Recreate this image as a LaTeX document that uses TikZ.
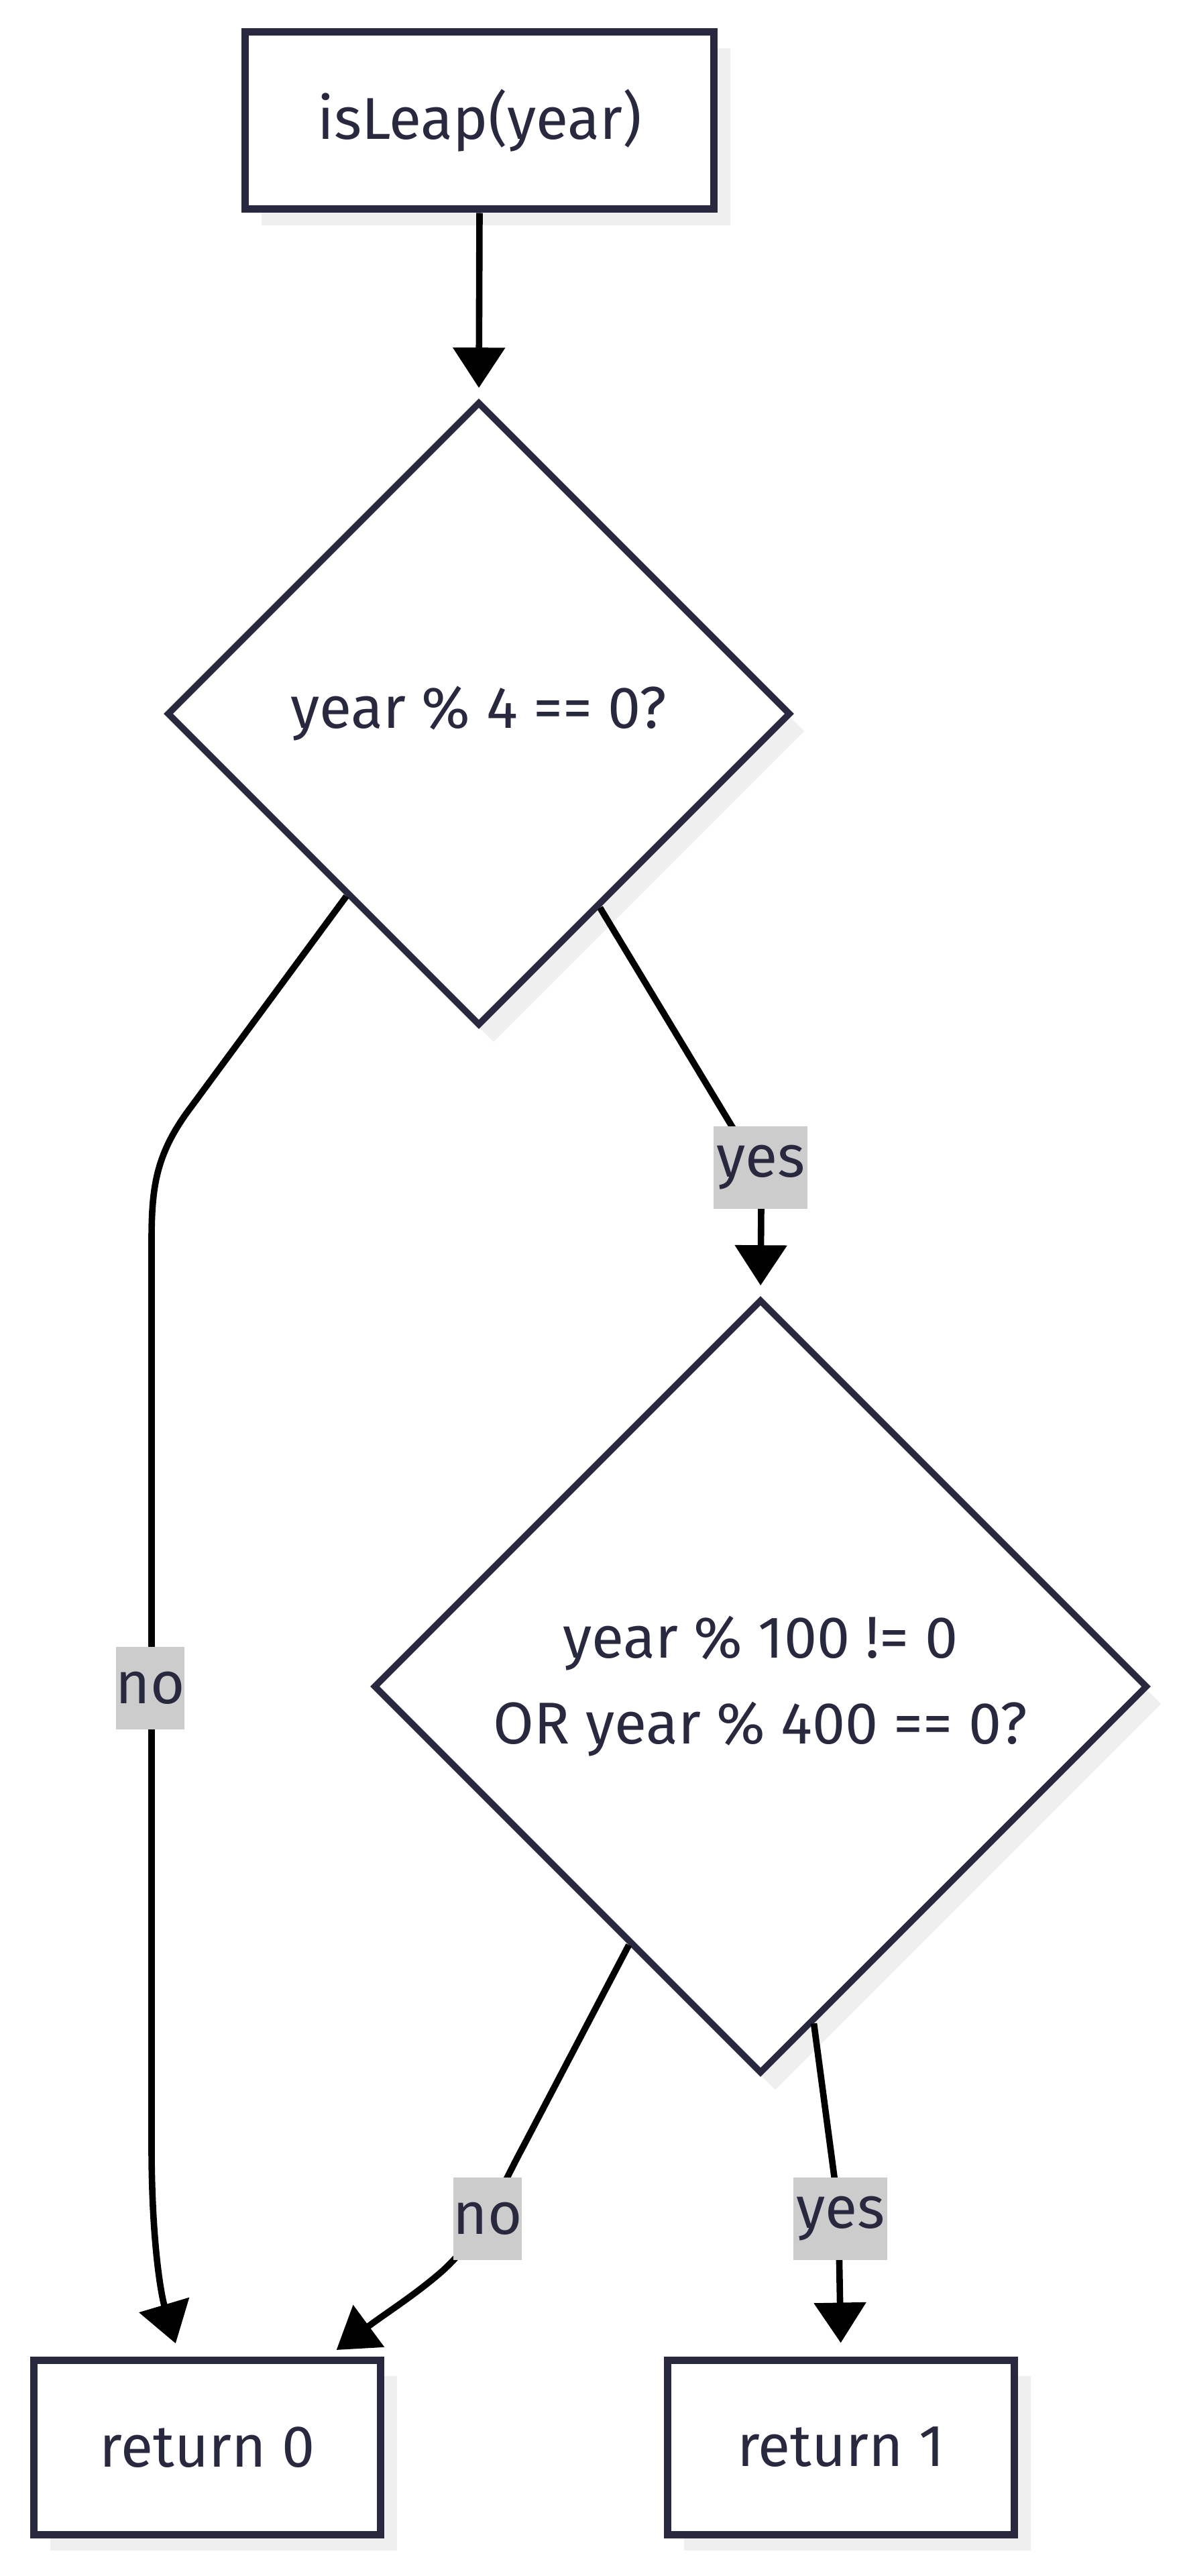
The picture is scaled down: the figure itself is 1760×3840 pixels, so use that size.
\documentclass[tikz,border=0pt]{standalone}
\usepackage{fontspec}
\setmainfont{Fira Sans}
\usetikzlibrary{shapes.geometric,shadows,arrows.meta}
\definecolor{ink}{RGB}{40,40,62}
\definecolor{shadowc}{RGB}{239,239,239}
\definecolor{labelbg}{RGB}{204,204,204}
\begin{document}
\begin{tikzpicture}[x=0.25pt,y=-0.25pt,
  every node/.style={font=\fontsize{22pt}{32pt}\selectfont, text=ink},
  procbox/.style={draw=ink, line width=2.75pt, fill=white, rectangle, inner sep=0pt,
    drop shadow={shadow xshift=6pt, shadow yshift=-6pt, fill=shadowc, opacity=1}},
  decbox/.style={draw=ink, line width=2.4pt, fill=white, diamond, aspect=1, inner sep=0pt, align=center,
    drop shadow={shadow xshift=5.5pt, shadow yshift=-6.5pt, fill=shadowc, opacity=1}},
  flow/.style={draw=black, line width=2.4pt, -{Triangle[width=19pt,length=15pt]}},
  elabel/.style={fill=labelbg, inner sep=0pt, minimum height=30.75pt}
]
\useasboundingbox (0,0) rectangle (1760,3840);

\node[procbox, minimum width=174.75pt, minimum height=66pt] (start) at (715,180) {isLeap(year)};
\node[decbox, minimum width=232.5pt, minimum height=232.5pt] (d1) at (714,1064) {year \% 4 == 0?};
\node[decbox, minimum width=288.5pt, minimum height=288.5pt] (d2) at (1134,2514) {year \% 100 != 0\\OR year \% 400 == 0?};
\node[procbox, minimum width=129.25pt, minimum height=65pt] (r0) at (309,3648) {return 0};
\node[procbox, minimum width=129.25pt, minimum height=65pt] (r1) at (1254,3648) {return 1};

% edges
\draw[flow, shorten >=4pt] (start.south) -- (d1.north);
\draw[flow, shorten >=5pt] (d1.234) -- (285,1650) .. controls (232,1720) and (226,1770) .. (226,1850)
  -- (226,3200) .. controls (226,3340) and (240,3420) .. (r0.107);
\draw[flow, shorten >=4pt] (d1.302) -- (1098,1690) .. controls (1134,1748) .. (1135,1800) -- (d2.north);
\draw[flow, shorten >=4pt] (d2.243) -- (780,3200) .. controls (745,3265) and (720,3330) .. (660,3385)
  .. controls (620,3420) and (580,3445) .. (r0.37);
\draw[flow, shorten >=5pt] (d2.279) -- (1250,3290) -- (r1.north);

% labels
\node[elabel, minimum width=35pt] (l1) at (1134,1740) {yes};
\node[elabel, minimum width=24.75pt] (l2) at (224,2516) {no};
\node[elabel, minimum width=24.75pt] (l3) at (727,3307) {no};
\node[elabel, minimum width=35pt] (l4) at (1253,3307) {yes};
\end{tikzpicture}
\end{document}
